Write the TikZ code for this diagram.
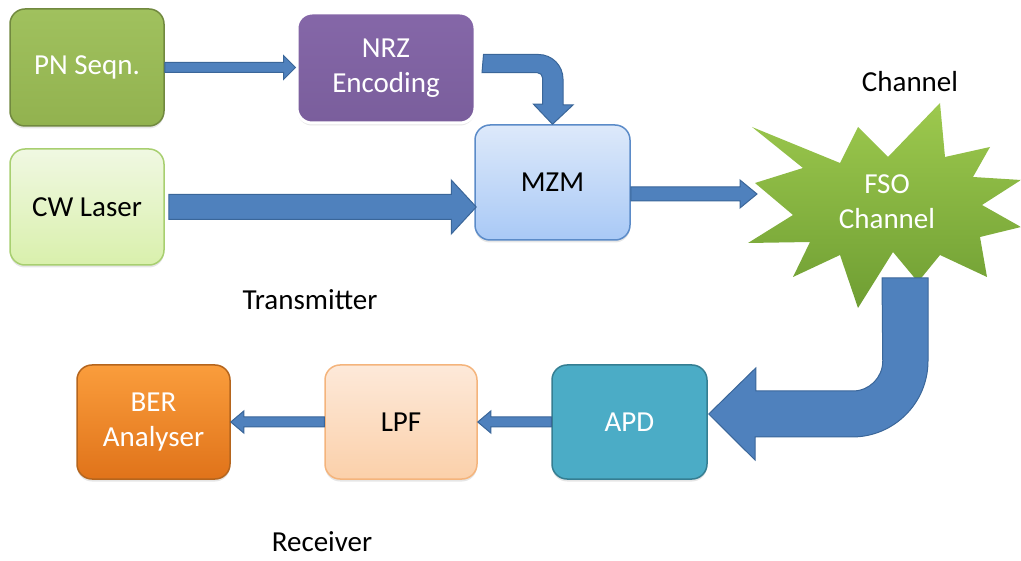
\documentclass[tikz,border=0pt]{standalone}
\usepackage{fontspec}
\setmainfont{Carlito}
\usetikzlibrary{calc,shadows}

\definecolor{arrowblue}{HTML}{4F81BD}
\definecolor{arrowedge}{HTML}{3A6699}
\definecolor{pntop}{HTML}{A0C15E}
\definecolor{pnbot}{HTML}{92B24F}
\definecolor{pnedge}{HTML}{71893F}
\definecolor{nrztop}{HTML}{8567A8}
\definecolor{nrzbot}{HTML}{7A5E9C}
\definecolor{cwtop}{HTML}{F0F8E2}
\definecolor{cwbot}{HTML}{D9F0AC}
\definecolor{cwedge}{HTML}{A8CF70}
\definecolor{mzmtop}{HTML}{DDE9FA}
\definecolor{mzmbot}{HTML}{A9C9F6}
\definecolor{mzmedge}{HTML}{5B8BC8}
\definecolor{apdfill}{HTML}{4BACC6}
\definecolor{apdedge}{HTML}{357E92}
\definecolor{lpftop}{HTML}{FDE9D9}
\definecolor{lpfbot}{HTML}{FBD0AA}
\definecolor{lpfedge}{HTML}{F4B47C}
\definecolor{bertop}{HTML}{FA9D3C}
\definecolor{berbot}{HTML}{E0731A}
\definecolor{beredge}{HTML}{B5651D}
\definecolor{fsotop}{HTML}{9DC94E}
\definecolor{fsobot}{HTML}{6F9E33}

% straight block arrow: from, to, half shaft, half head, head length
\newcommand{\blockarrow}[5]{%
  \coordinate (ba-base) at ($(#2)!#5pt!(#1)$);
  \draw[barrow] ($(#1)!#3pt!90:(#2)$) -- ($(ba-base)!#3pt!90:(#2)$)
    -- ($(ba-base)!#4pt!90:(#2)$) -- (#2) -- ($(ba-base)!#4pt!-90:(#2)$)
    -- ($(ba-base)!#3pt!-90:(#2)$) -- ($(#1)!#3pt!-90:(#2)$) -- cycle;}

\begin{document}
\begin{tikzpicture}[x=1pt,y=-1pt,font=\fontsize{29}{35}\selectfont,
  box/.style={rectangle,rounded corners=15pt,align=center,line width=1.5pt,
    drop shadow={opacity=0.2,shadow xshift=0pt,shadow yshift=-2.5pt}},
  barrow/.style={fill=arrowblue,draw=arrowedge,line width=1pt,line join=miter}]
\useasboundingbox (0,0) rectangle (1021,561);

% FSO channel (explosion)
\path[top color=fsotop,bottom color=fsobot]
  (752,127) -- (840,163) -- (858,127) -- (888,157) -- (940,103) -- (945,157)
  -- (990,147) -- (973,177) -- (1021,180) -- (982,205) -- (1021,227) -- (980,237)
  -- (987,277) -- (940,255) -- (918,282) -- (893,252) -- (858,308) -- (840,255)
  -- (793,277) -- (810,242) -- (748,243) -- (793,215) -- (755,183) -- (803,168) -- cycle;
\node[text=white,align=center] (fso) at (887,202) {FSO\\Channel};

% blocks
\node[box,minimum width=154pt,minimum height=117pt,draw=pnedge,top color=pntop,bottom color=pnbot,text=white] (pn) at (87,67.5) {PN Seqn.};
\node[box,minimum width=178pt,minimum height=110pt,draw=white,line width=3pt,top color=nrztop,bottom color=nrzbot,text=white] (nrz) at (386,68) {NRZ\\Encoding};
\node[box,minimum width=154pt,minimum height=116pt,draw=cwedge,top color=cwtop,bottom color=cwbot] (cw) at (87,207) {CW Laser};
\node[box,minimum width=155pt,minimum height=115pt,draw=mzmedge,top color=mzmtop,bottom color=mzmbot] (mzm) at (552.5,182.5) {MZM};
\node[box,minimum width=155pt,minimum height=114pt,draw=apdedge,fill=apdfill,text=white] (apd) at (629.5,422) {APD};
\node[box,minimum width=152pt,minimum height=114pt,draw=lpfedge,top color=lpftop,bottom color=lpfbot] (lpf) at (401,422) {LPF};
\node[box,minimum width=153pt,minimum height=114pt,draw=beredge,top color=bertop,bottom color=berbot,text=white] (ber) at (153.5,422) {BER\\Analyser};

% labels
\node (lbl-channel) at (910,82) {Channel};
\node (lbl-tx) at (310,300) {Transmitter};
\node[inner sep=1pt] (lbl-rx) at (322,542) {Receiver};

% connector ends
\coordinate (nrz-in) at (pn.east -| nrz.west);
\coordinate (nrz-out) at ($(nrz.east)+(7,-4)$);
\coordinate (cw-out) at ($(cw.east)+(4,0)$);
\coordinate (mzm-in) at ($(cw.east -| mzm.west)+(2,0)$);
\coordinate (mzm-out) at ($(mzm.east)+(0,11.5)$);
\coordinate (fso-in) at (757,194);
\coordinate (fso-out) at (905,278);
\coordinate (apd-in) at ($(apd.east)+(1,-8)$);
\coordinate (lpf-in) at (apd.west -| lpf.east);
\coordinate (ber-in) at (lpf.west -| ber.east);

% arrows
\blockarrow{pn.east}{nrz-in}{5}{12}{12}
\blockarrow{cw-out}{mzm-in}{12.5}{27}{25}
\blockarrow{mzm-out}{fso-in}{7}{14}{17}
\blockarrow{apd.west}{lpf-in}{5}{11}{13}
\blockarrow{lpf.west}{ber-in}{5}{11}{13}

\draw[barrow] ($(nrz-out)+(0,-9.5)$) -- ++(55,0)
  .. controls +(13.5,0) and +(0,-13.5) .. ++(24.5,24.5) -- ++(0,26) -- ++(10,0)
  -- (mzm.north) -- ++(-19,-20) -- ++(9,0) -- ++(0,-26.5)
  .. controls +(0,-2.8) and +(2.8,0) .. ++(-5,-5) -- ++(-55.5,0) -- cycle;

\draw[barrow] ($(fso-out)+(-23,0)$) -- ++(46,0) -- ++(0,83)
  .. controls +(0,42) and +(42,0) .. ++(-76,76) -- ++(-97,0) -- ++(0,23)
  -- (apd-in) -- ++(47,-46) -- ++(0,23) -- ++(97,0)
  .. controls +(16.6,0) and +(0,16.6) .. ++(30,-30) -- cycle;
\end{tikzpicture}
\end{document}
